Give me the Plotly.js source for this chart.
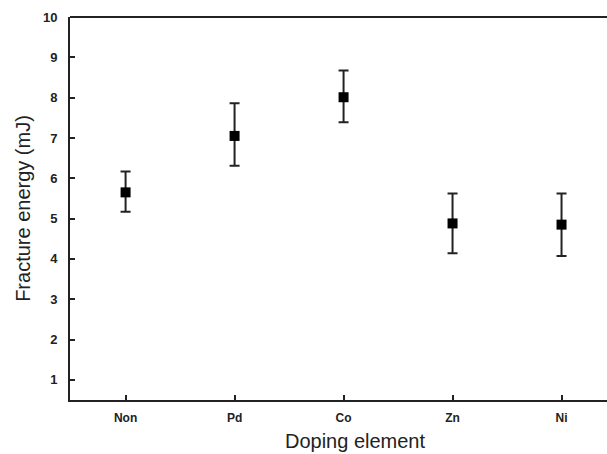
<!DOCTYPE html>
<html>
<head>
<meta charset="utf-8">
<script src="https://cdn.plot.ly/plotly-3.0.1.min.js"></script>
<style>html,body{margin:0;padding:0;background:#fff;overflow:hidden;width:607px;height:454px;}#chart{width:640px;height:454px;}</style>
</head>
<body>
<div id="chart"></div>
<script>
const categories = ["Non", "Pd", "Co", "Zn", "Ni"];
const energy = [5.65, 7.05, 8.01, 4.88, 4.85];
const errUpper = [0.52, 0.81, 0.66, 0.74, 0.77];
const errLower = [0.48, 0.74, 0.62, 0.74, 0.78];
const yTicks = [1, 2, 3, 4, 5, 6, 7, 8, 9, 10];

const trace = {
  x: categories.map((c, i) => i),
  y: energy,
  type: 'scatter',
  mode: 'markers',
  marker: {symbol: 'square', size: 10, color: '#000'},
  error_y: {type: 'data', symmetric: false, array: errUpper, arrayminus: errLower,
            color: '#222', thickness: 2, width: 5},
  showlegend: false,
  cliponaxis: false
};

const layout = {
  width: 640, height: 454,
  margin: {l: 70, r: 0, t: 17, b: 54},
  paper_bgcolor: '#fff', plot_bgcolor: '#fff',
  font: {family: 'Arial, Liberation Sans, sans-serif', color: '#222'},
  xaxis: {
    range: [-0.51, 4.72],
    tickvals: categories.map((c, i) => i),
    ticktext: categories,
    ticks: 'inside', ticklen: 5, tickwidth: 2, tickcolor: '#222',
    showline: true, linecolor: '#222', linewidth: 2,
    showgrid: false, zeroline: false,
    ticklabelstandoff: 6,
    tickfont: {size: 12, family: 'Arial, Liberation Sans, sans-serif', weight: 'bold', color: '#222'},
    title: {text: 'Doping element', font: {size: 20, color: '#222'}, standoff: 10}
  },
  yaxis: {
    range: [0.5, 10],
    tickvals: yTicks,
    ticks: 'inside', ticklen: 5, tickwidth: 2, tickcolor: '#222',
    showline: true, linecolor: '#222', linewidth: 2,
    showgrid: false, zeroline: false,
    ticklabelstandoff: 8,
    tickfont: {size: 13, family: 'Arial, Liberation Sans, sans-serif', weight: 'bold', color: '#222'},
    title: {text: 'Fracture energy (mJ)', font: {size: 20, color: '#222'}, standoff: 7}
  },
  shapes: [{type: 'line', xref: 'paper', yref: 'paper', x0: 0, x1: 1, y0: 1, y1: 1,
            line: {color: '#222', width: 2}}]
};

Plotly.newPlot('chart', [trace], layout, {displayModeBar: false, staticPlot: true});
</script>
</body>
</html>
